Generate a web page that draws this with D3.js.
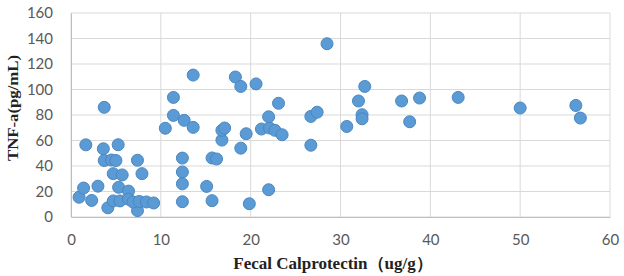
<!DOCTYPE html>
<html>
<head>
<meta charset="utf-8">
<script src="https://cdn.jsdelivr.net/npm/d3@7"></script>
<style>
  body { margin: 0; background: #fff; }
  svg { display: block; }
</style>
</head>
<body>
<svg id="chart" width="624" height="276"></svg>
<script>
// fecal calprotectin (ug/g) vs TNF-a (pg/mL)
let calprotectin = [0.9, 1.4, 1.65, 2.3, 3.0, 3.6, 3.7, 3.7, 4.1, 4.5, 5.0, 7.4, 4.7, 5.7, 7.9, 5.25, 5.3, 6.4, 7.4,
  4.7, 5.45, 6.4, 6.9, 7.6, 8.4, 9.2,
  10.5, 11.4, 11.4, 12.6, 13.6, 13.6, 12.4, 12.4, 12.4, 12.4, 15.1, 15.7, 15.7, 16.2, 16.8, 16.8, 17.1,
  18.3, 18.9, 18.9, 19.5, 19.85, 20.6, 21.2, 22.1, 22.7, 23.5, 22.0, 22.0, 23.1, 26.7, 27.4, 26.7, 28.5,
  30.7, 32.0, 32.7, 32.4, 32.4, 36.8, 37.7, 38.8, 43.1, 50.0, 56.2, 56.7];
let tnf = [15.5, 22.7, 56.6, 13, 24.2, 53.5, 86, 44.3, 7.2, 44.7, 44.3, 44.5, 34, 33, 34, 56.7, 23.3, 20.3, 5,
  12.6, 12.6, 14, 11.8, 12.2, 11.8, 11,
  69.6, 93.8, 79.7, 75.8, 70.3, 111.3, 46.2, 35.3, 26, 12, 24, 12.8, 46.3, 45.5, 60.3, 68, 69.8,
  109.8, 102.4, 54, 65.3, 10.4, 104.4, 69, 69.8, 68, 64.5, 78.6, 21.4, 89.2, 78.9, 82.2, 56.3, 135.9,
  71, 91, 102.4, 80.2, 77, 91, 74.7, 93.3, 93.8, 85.5, 87.5, 77.6];
let xTicks = [0, 10, 20, 30, 40, 50, 60];
let yTicks = [0, 20, 40, 60, 80, 100, 120, 140, 160];

let svg = d3.select('#chart');
let pad = {t: 13, r: 14, b: 59, l: 71};
let width = 624, height = 276;

let x = d3.scaleLinear().domain([0, 60]).range([pad.l, width - pad.r]);
let y = d3.scaleLinear().domain([0, 160]).range([height - pad.b, pad.t]);

// gridlines
svg.append('g').selectAll('line.h')
  .data(yTicks)
  .enter().append('line')
  .attr('x1', x(0)).attr('x2', x(60))
  .attr('y1', d => y(d)).attr('y2', d => y(d))
  .attr('stroke', '#d9d9d9').attr('stroke-width', 1);

svg.append('g').selectAll('line.v')
  .data(xTicks)
  .enter().append('line')
  .attr('x1', d => x(d)).attr('x2', d => x(d))
  .attr('y1', y(0)).attr('y2', y(160))
  .attr('stroke', '#d9d9d9').attr('stroke-width', 1);

// axes (labels only)
let xAxis = svg.append('g')
  .attr('transform', 'translate(0,' + y(0) + ')')
  .call(d3.axisBottom(x).tickValues(xTicks).tickSize(0).tickPadding(17));
let yAxis = svg.append('g')
  .attr('transform', 'translate(' + x(0) + ',0)')
  .call(d3.axisLeft(y).tickValues(yTicks).tickSize(0).tickPadding(18));

[xAxis, yAxis].forEach(a => {
  a.select('.domain').attr('stroke', '#bfbfbf');
  a.selectAll('text')
    .attr('fill', '#595959')
    .attr('font-family', 'Lato, "Open Sans", sans-serif')
    .attr('font-size', '15px');
});

// points
let pts = calprotectin.map((c, i) => ({x: c, y: tnf[i]}));
svg.append('g').selectAll('circle')
  .data(pts)
  .enter().append('circle')
  .attr('cx', d => x(d.x))
  .attr('cy', d => y(d.y))
  .attr('r', 6)
  .attr('fill', '#5b9bd5')
  .attr('stroke', '#4a87c0')
  .attr('stroke-width', 1);

// axis titles
svg.append('text')
  .attr('x', 333)
  .attr('y', 269)
  .attr('text-anchor', 'middle')
  .attr('font-family', '"Liberation Serif", "DejaVu Serif", serif')
  .attr('font-weight', 'bold')
  .attr('font-size', '17px')
  .attr('fill', '#222')
  .text('Fecal Calprotectin（ug/g）');

svg.append('text')
  .attr('transform', 'translate(18,108) rotate(-90)')
  .attr('text-anchor', 'middle')
  .attr('font-family', '"Liberation Serif", "DejaVu Serif", serif')
  .attr('font-weight', 'bold')
  .attr('font-size', '15px')
  .attr('textLength', 106)
  .attr('lengthAdjust', 'spacingAndGlyphs')
  .attr('fill', '#222')
  .text('TNF-a(pg/mL)');
</script>
</body>
</html>
